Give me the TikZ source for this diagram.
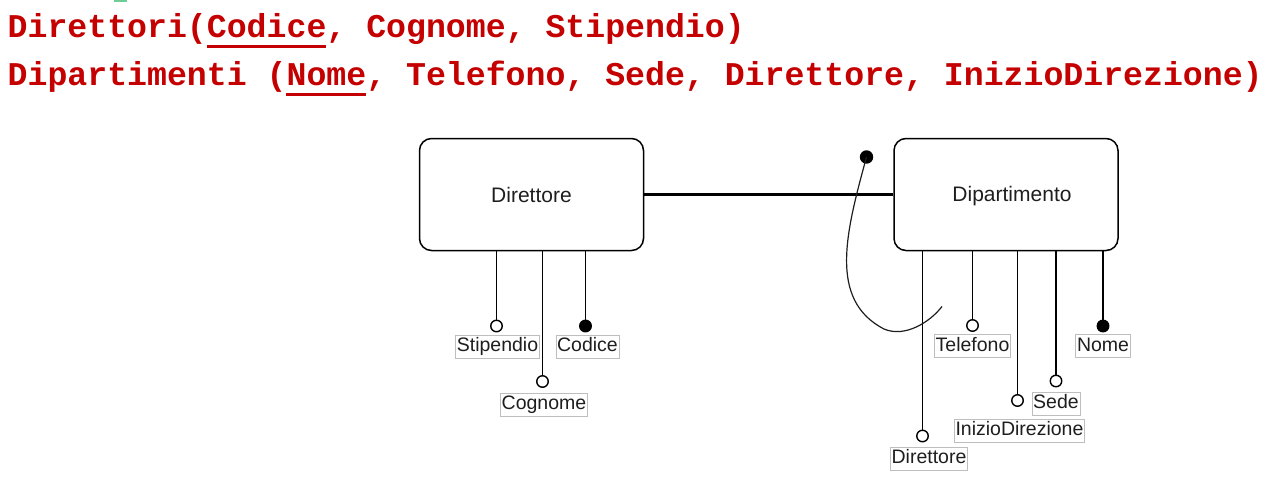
\documentclass[tikz,border=0pt]{standalone}
\usepackage{fontspec}
\setmainfont{Liberation Sans}
\newfontfamily\monofont{Liberation Mono}
\definecolor{schemared}{RGB}{196,0,0}
\definecolor{boxgray}{RGB}{190,190,190}
\definecolor{textdark}{RGB}{30,30,30}
\definecolor{greenbit}{RGB}{110,205,150}
\begin{document}
\begin{tikzpicture}[x=1pt,y=-1pt,
  schema/.style={anchor=base west,inner sep=0pt,text=schemared,font=\monofont\bfseries\fontsize{33.2}{40}\selectfont},
  entity/.style={draw,rounded corners=12pt,line width=1.5pt,minimum width=224pt,minimum height=112pt,inner sep=0pt,font=\fontsize{21}{25}\selectfont,text=textdark},
  attrlabel/.style={draw=boxgray,line width=0.8pt,inner xsep=1.2pt,inner ysep=2.3pt,text height=14.5pt,text depth=4pt,font=\fontsize{19.5}{23}\selectfont,text=textdark},
  opencirc/.style={circle,draw,line width=1.4pt,fill=white,minimum size=11.5pt,inner sep=0pt},
  fullcirc/.style={circle,draw,line width=1.4pt,fill=black,minimum size=11.5pt,inner sep=0pt},
  attrline/.style={line width=1.8pt},
  uline/.style={fill=schemared,draw=none}
]
\useasboundingbox (0,0) rectangle (1282,490);
\fill[greenbit] (114,0) rectangle (127,2);

% relational schema
\node[schema] (s1) at (7.5,37.5) {Direttori(Codice, Cognome, Stipendio)};
\node[schema] (s2) at (7.5,85.5) {Dipartimenti (Nome, Telefono, Sede, Direttore, InizioDirezione)};
\fill[uline] (206.7,44.8) rectangle (326,48);
\fill[uline] (286.4,92.6) rectangle (366.2,95.8);

% entities
\node[entity] (dir) at (531.5,194.5) {Direttore};
\node[entity] (dip) at (1006,194.5) {};
\node[font=\fontsize{21}{25}\selectfont,text=textdark,inner sep=0pt] (diplab) at (1012,196) {Dipartimento};

% relationship
\draw[line width=2.8pt] (dir.east) -- (dip.west);

% attributes of Direttore
\node[opencirc] (cstip) at (496.5,326) {};
\node[fullcirc] (ccod) at (585.5,326) {};
\node[opencirc] (ccog) at (542.5,381.5) {};
\draw[attrline] (cstip |- dir.south) -- (cstip);
\draw[attrline] (ccod |- dir.south) -- (ccod);
\draw[attrline] (ccog |- dir.south) -- (ccog);
\node[attrlabel] (lstip) at (497.5,346.5) {Stipendio};
\node[attrlabel] (lcod) at (587.5,346.5) {Codice};
\node[attrlabel] (lcog) at (544,404.5) {Cognome};

% attributes of Dipartimento
\node[opencirc] (cdire) at (922.5,436) {};
\node[opencirc] (ctel) at (972.5,325.5) {};
\node[opencirc] (cini) at (1017.5,400.5) {};
\node[opencirc] (csede) at (1056,381) {};
\node[fullcirc] (cnome) at (1103,326) {};
\draw[attrline] (cdire |- dip.south) -- (cdire);
\draw[attrline] (ctel |- dip.south) -- (ctel);
\draw[attrline] (cini |- dip.south) -- (cini);
\draw[attrline] (csede |- dip.south) -- (csede);
\draw[attrline] (cnome |- dip.south) -- (cnome);
\node[attrlabel] (ldire) at (929,458.5) {Direttore};
\node[attrlabel] (ltel) at (972.5,346) {Telefono};
\node[attrlabel] (lini) at (1019.5,430.5) {InizioDirezione};
\node[attrlabel] (lsede) at (1056,403.5) {Sede};
\node[attrlabel] (lnome) at (1103,346) {Nome};

% external identifier
\node[fullcirc,minimum size=12pt] (idot) at (866.5,157) {};
\coordinate (idend) at (942,306.5);
\draw[line width=1.2pt,textdark] (idot.center) .. controls (846,232) and (828,300) .. (884,329) .. controls (905,338) and (930,322) .. (idend);
\end{tikzpicture}
\end{document}
